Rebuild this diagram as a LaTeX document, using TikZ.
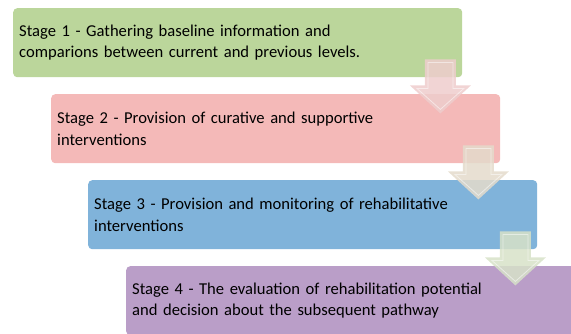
\documentclass[tikz,border=0pt]{standalone}
\usepackage{fontspec}
\setmainfont{Carlito}
\usetikzlibrary{calc}
\definecolor{cgreen}{RGB}{187,214,155}
\definecolor{cpink}{RGB}{244,185,184}
\definecolor{cblue}{RGB}{128,179,218}
\definecolor{cpurple}{RGB}{186,158,200}
\definecolor{apink}{RGB}{238,205,205}
\definecolor{abeige}{RGB}{228,219,203}
\definecolor{agreen}{RGB}{215,226,200}
\newcommand\stagearrow[2]{%
  \begin{scope}[shift={(#1)}]
    \fill[#2, opacity=0.85] (-15.5,0) -- (15.5,0) -- (15.5,26) -- (30.5,26) -- (0,54) -- (-30.5,26) -- (-15.5,26) -- cycle;
    \draw[white, opacity=0.5, line width=0.8pt] (-12.5,3) -- (12.5,3) -- (12.5,29) -- (23.5,29) -- (0,50) -- (-23.5,29) -- (-12.5,29) -- cycle;
  \end{scope}}
\begin{document}
\begin{tikzpicture}[x=1pt, y=-1pt,
  stagebox/.style={fill=#1, draw=none, rounded corners=4pt, anchor=north west,
    minimum width=449pt, minimum height=69pt, text width=437pt, inner xsep=6pt,
    align=left, font=\fontsize{16.6}{19.5}\selectfont,
    execute at begin node={\vspace*{2pt}}}]
\useasboundingbox (0,0) rectangle (571,333);
\clip (0,0) rectangle (571,333);
\node[stagebox=cgreen] (s1) at (13,8) {Stage 1 - Gathering baseline information and\\comparions between current and previous levels.};
\node[stagebox=cpink] (s2) at (51,94) {Stage 2 - Provision of curative and supportive\\interventions};
\node[stagebox=cblue] (s3) at (88,180) {Stage 3 - Provision and monitoring of rehabilitative\\interventions};
\node[stagebox=cpurple] (s4) at (126,266) {Stage 4 - The evaluation of rehabilitation potential\\and decision about the subsequent pathway};
\coordinate (a1) at ($(s1.south east)+(-22,-18)$);
\coordinate (a2) at ($(s2.south east)+(-22,-18)$);
\coordinate (a3) at ($(s3.south east)+(-22,-18)$);
\stagearrow{a1}{apink}
\stagearrow{a2}{abeige}
\stagearrow{a3}{agreen}
\end{tikzpicture}
\end{document}
